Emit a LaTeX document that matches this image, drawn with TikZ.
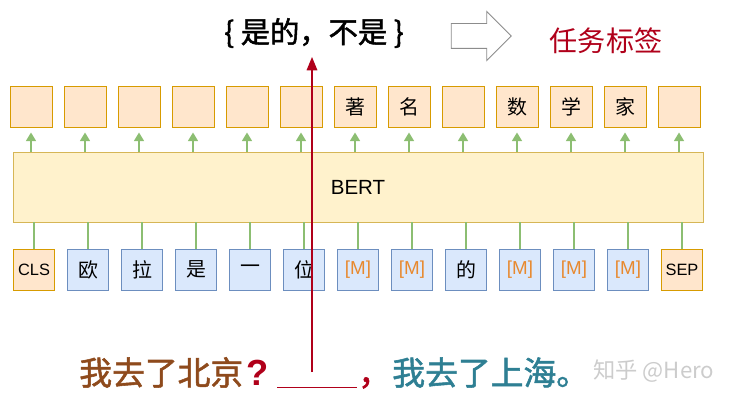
\documentclass[tikz,border=0pt]{standalone}
\usepackage{fontspec}
\setmainfont{Liberation Sans}
\newfontfamily\cjk{Noto Sans CJK SC}
\newfontfamily\cjkb[FakeBold=1.6]{Noto Sans CJK SC}
\usetikzlibrary{shapes.arrows,arrows.meta}

\definecolor{outfill}{HTML}{FFE6CC}
\definecolor{outline}{HTML}{D79B00}
\definecolor{infill}{HTML}{DAE8FC}
\definecolor{inline}{HTML}{6C8EBF}
\definecolor{bertfill}{HTML}{FFF2CC}
\definecolor{bertline}{HTML}{D6B656}
\definecolor{upgreen}{HTML}{8CBE72}
\definecolor{maskorange}{HTML}{E8892E}
\definecolor{taskred}{HTML}{B0001A}
\definecolor{brownq}{HTML}{8E4A1C}
\definecolor{tealq}{HTML}{2E7F93}

\begin{document}
\begin{tikzpicture}[x=0.03cm, y=-0.03cm,
  outbox/.style={rectangle, draw=outline, fill=outfill, line width=0.8pt, minimum width=1.26cm, minimum height=1.23cm, inner sep=0pt, font=\cjk\fontsize{17pt}{17pt}\selectfont},
  inbox/.style={rectangle, draw=inline, fill=infill, line width=0.8pt, minimum width=1.23cm, minimum height=1.23cm, inner sep=0pt, font=\cjk\fontsize{17pt}{17pt}\selectfont},
  spbox/.style={inbox, draw=outline, fill=outfill, font=\fontsize{14pt}{14pt}\selectfont},
  mask/.style={font=\fontsize{16pt}{16pt}\selectfont, text=maskorange},
  up/.style={-{Triangle[length=2.6mm, width=3mm]}, upgreen, line width=1.4pt, shorten >=0.15cm},
  feed/.style={upgreen, line width=1.4pt},
  say/.style={font=\cjkb\fontsize{28pt}{28pt}\selectfont, anchor=base west, inner sep=0pt},
]
\useasboundingbox (0,0) rectangle (733,401);

% === OUTPUT ROW ===
\node[outbox] (o1) at (31, 106.5) {};
\node[outbox] (o2) at (85, 106.5) {};
\node[outbox] (o3) at (139, 106.5) {};
\node[outbox] (o4) at (193, 106.5) {};
\node[outbox] (o5) at (247, 106.5) {};
\node[outbox] (o6) at (301, 106.5) {};
\node[outbox] (o7) at (355, 106.5) {著};
\node[outbox] (o8) at (409, 106.5) {名};
\node[outbox] (o9) at (463, 106.5) {};
\node[outbox] (o10) at (517, 106.5) {数};
\node[outbox] (o11) at (571, 106.5) {学};
\node[outbox] (o12) at (625, 106.5) {家};
\node[outbox] (o13) at (679, 106.5) {};

% === BERT ===
\node[rectangle, draw=bertline, fill=bertfill, line width=0.8pt, minimum width=20.7cm, minimum height=2.1cm, font=\fontsize{17.5pt}{17.5pt}\selectfont] (bert) at (358, 187) {BERT};

% === INPUT ROW ===
\node[spbox] (t1) at (34, 269.5) {CLS};
\node[inbox] (t2) at (88, 269.5) {欧};
\node[inbox] (t3) at (142, 269.5) {拉};
\node[inbox] (t4) at (196, 269.5) {是};
\node[inbox] (t5) at (250, 269.5) {一};
\node[inbox] (t6) at (304, 269.5) {位};
\node[inbox, mask] (t7) at (358, 269.5) {[M]};
\node[inbox, mask] (t8) at (412, 269.5) {[M]};
\node[inbox] (t9) at (466, 269.5) {的};
\node[inbox, mask] (t10) at (520, 269.5) {[M]};
\node[inbox, mask] (t11) at (574, 269.5) {[M]};
\node[inbox, mask] (t12) at (628, 269.5) {[M]};
\node[spbox] (t13) at (682, 269.5) {SEP};

% inputs into BERT
\draw[feed] (t1) -- (t1 |- bert.south);
\draw[feed] (t2) -- (t2 |- bert.south);
\draw[feed] (t3) -- (t3 |- bert.south);
\draw[feed] (t4) -- (t4 |- bert.south);
\draw[feed] (t5) -- (t5 |- bert.south);
\draw[feed] (t6) -- (t6 |- bert.south);
\draw[feed] (t7) -- (t7 |- bert.south);
\draw[feed] (t8) -- (t8 |- bert.south);
\draw[feed] (t9) -- (t9 |- bert.south);
\draw[feed] (t10) -- (t10 |- bert.south);
\draw[feed] (t11) -- (t11 |- bert.south);
\draw[feed] (t12) -- (t12 |- bert.south);
\draw[feed] (t13) -- (t13 |- bert.south);

% BERT into outputs
\draw[up] (o1 |- bert.north) -- (o1);
\draw[up] (o2 |- bert.north) -- (o2);
\draw[up] (o3 |- bert.north) -- (o3);
\draw[up] (o4 |- bert.north) -- (o4);
\draw[up] (o5 |- bert.north) -- (o5);
\draw[up] (o6 |- bert.north) -- (o6);
\draw[up] (o7 |- bert.north) -- (o7);
\draw[up] (o8 |- bert.north) -- (o8);
\draw[up] (o9 |- bert.north) -- (o9);
\draw[up] (o10 |- bert.north) -- (o10);
\draw[up] (o11 |- bert.north) -- (o11);
\draw[up] (o12 |- bert.north) -- (o12);
\draw[up] (o13 |- bert.north) -- (o13);

% === TASK LABELS ===
\node[font=\cjkb\fontsize{25pt}{25pt}\selectfont] (labels) at (314, 33) {\{ 是的，不是 \}};
\node[single arrow, draw=gray!90, fill=white, line width=0.8pt, minimum height=1.8cm, inner xsep=0pt, inner ysep=0.36cm, single arrow head extend=0.36cm] (hollow) at (475, 36) {};
\node[font=\cjk\fontsize{24pt}{24pt}\selectfont, text=taskred] (task) at (606, 41) {任务标签};

% === PROMPT SENTENCE ===
\node[say, text=brownq] (q1) at (79, 385) {我去了北京};
\node[say, text=taskred, font=\bfseries\fontsize{31pt}{31pt}\selectfont] (qmark) at (246, 385) {?};
\node[say, text=taskred] (blank) at (277, 385) {\rule[-0.1cm]{2.4cm}{0.9pt}};
\node[say, text=taskred] (comma) at (358, 385) {，};
\node[say, text=tealq] (q2) at (392, 385) {我去了上海。};
\node[font=\cjk\fontsize{19pt}{19pt}\selectfont, text=gray!40, anchor=base west, inner sep=0pt] (mark) at (593, 378) {知乎 @Hero};

\coordinate (gap) at (312, 372);
\draw[-{Triangle[length=4mm, width=3.2mm]}, taskred, line width=1pt, shorten >=0.15cm] (gap) -- (gap |- labels.south);
\end{tikzpicture}
\end{document}
